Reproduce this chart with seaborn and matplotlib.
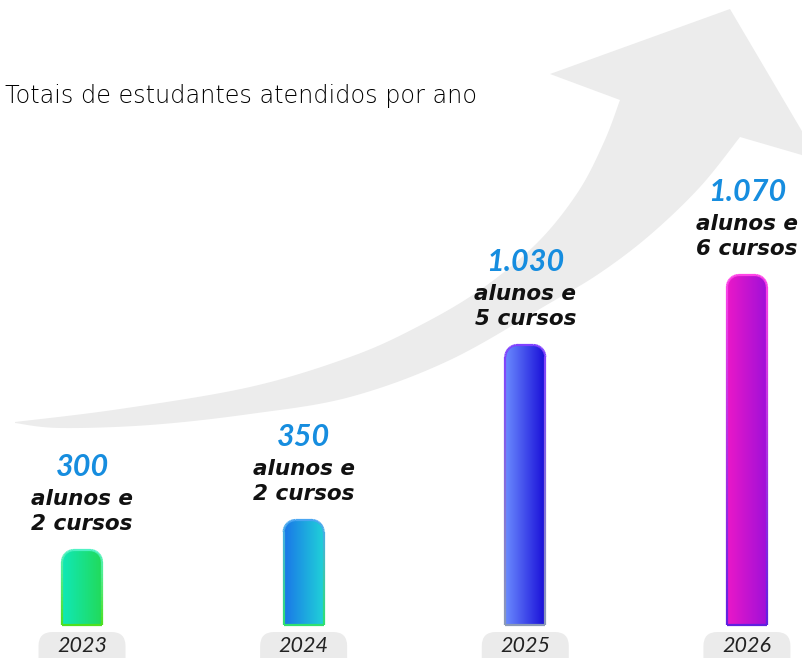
import numpy as np
import pandas as pd
import matplotlib
matplotlib.use('Agg')
import matplotlib.pyplot as plt
import seaborn as sns
from matplotlib.path import Path
from matplotlib.patches import PathPatch, FancyBboxPatch
from matplotlib.collections import LineCollection
from matplotlib.colors import LinearSegmentedColormap, to_rgb

# Data (bar heights are the drawn heights)
years = ['2023', '2024', '2025', '2026']
bar_heights = [75, 105, 280, 350]
totals = ['300', '350', '1.030', '1.070']
courses = ['2 cursos', '2 cursos', '5 cursos', '6 cursos']
title = 'Totais de estudantes atendidos por ano'

# Colours: (left, right) fill gradient and (bottom, top) edge gradient
fill_colors = [('#10e8b8', '#22da5a'), ('#1a76e8', '#20d2d8'),
               ('#6a8cff', '#1a0fd8'), ('#ea18c8', '#a010d8')]
edge_colors = [('#4ee020', '#50f2c4'), ('#30e070', '#4aa6f2'),
               ('#8a9ab8', '#8040ff'), ('#6020e0', '#ff44e6')]
NUM_COLOR = '#168ddf'

W, H = 803, 658
sns.set_style('white')
plt.rcParams['font.family'] = ['Lato', 'DejaVu Sans']


def smooth(points, n=16):
    """Catmull-Rom curve through the given outline points."""
    p = np.asarray(points, float)
    p = np.vstack([p[0], p, p[-1]])
    out = []
    t = np.linspace(0, 1, n, endpoint=False)[:, None]
    for i in range(1, len(p) - 2):
        p0, p1, p2, p3 = p[i - 1], p[i], p[i + 1], p[i + 2]
        out.append(0.5 * (2 * p1 + (-p0 + p2) * t
                          + (2 * p0 - 5 * p1 + 4 * p2 - p3) * t ** 2
                          + (-p0 + 3 * p1 - 3 * p2 + p3) * t ** 3))
    out.append(p[-2:-1])
    return np.vstack(out)


fig = plt.figure(figsize=(W / 100, H / 100), dpi=100)

# background axes in pixel units (y down) for the decorative arrow
bg = fig.add_axes([0, 0, 1, 1], zorder=0)
bg.set_xlim(0, W)
bg.set_ylim(H, 0)
bg.axis('off')

upper = [(15, 422), (120, 409), (250, 387), (350, 357), (417, 327),
         (480, 290), (537, 243), (578, 192), (604, 142), (620, 100)]
lower = [(740, 137), (700, 187), (650, 235), (600, 273), (550, 303),
         (450, 360), (350, 397), (250, 414), (150, 425), (60, 428), (15, 423)]
head = [(550, 74), (730, 9), (819, 160)]
outline = np.vstack([smooth(upper), head, smooth(lower)])
bg.add_patch(PathPatch(Path(outline, closed=False), facecolor='#ececec',
                       edgecolor='none'))

bg.text(5, 96, title, fontsize=17.2, color='#000000', ha='left', va='center',
        family='DejaVu Sans', fontweight='light')

# bar axes: 1 y-unit = 1 pixel, baseline 33 px above the bottom
ax = fig.add_axes([0, 0, 1, 1], zorder=1)
ax.patch.set_alpha(0)
df = pd.DataFrame({'year': years, 'height': bar_heights})
sns.barplot(data=df, x='year', y='height', width=0.18, color='white',
            edgecolor='none', ax=ax)
xlim = (-0.37, 3.253)
ylim = (-33, H - 33)
ax.set_xlim(*xlim)
ax.set_ylim(*ylim)
ax.axis('off')

x_unit = W / (xlim[1] - xlim[0])  # pixels per category unit
radius = 12
bars = list(ax.patches)

for i, bar in enumerate(bars):
    bar.set_visible(False)
    x0, w, h = bar.get_x(), bar.get_width(), bar.get_height()
    rx, ry = radius / x_unit, radius
    # rounded-top outline
    t = np.linspace(np.pi, np.pi / 2, 12)
    left_arc = np.c_[x0 + rx + rx * np.cos(t), h - ry + ry * np.sin(t)]
    t = np.linspace(np.pi / 2, 0, 12)
    right_arc = np.c_[x0 + w - rx + rx * np.cos(t), h - ry + ry * np.sin(t)]
    pts = np.vstack([[x0, 0], [x0, h - ry], left_arc, right_arc,
                     [x0 + w, h - ry], [x0 + w, 0], [x0, 0]])
    clip = PathPatch(Path(pts), facecolor='none', edgecolor='none',
                     transform=ax.transData)
    ax.add_patch(clip)
    cmap = LinearSegmentedColormap.from_list('g%d' % i, fill_colors[i])
    im = ax.imshow(np.linspace(0, 1, 256).reshape(1, -1), cmap=cmap,
                   extent=[x0, x0 + w, 0, h], aspect='auto', zorder=2)
    im.set_clip_path(clip)

    # edge with vertical colour gradient
    dense = []
    for a, b in zip(pts[:-1], pts[1:]):
        n = max(2, int(abs(b[1] - a[1]) / 4) + 2)
        dense.append(np.linspace(a, b, n)[:-1])
    dense = np.vstack(dense + [pts[-1:]])
    segs = np.stack([dense[:-1], dense[1:]], axis=1)
    c0, c1 = np.array(to_rgb(edge_colors[i][0])), np.array(to_rgb(edge_colors[i][1]))
    frac = (segs[:, :, 1].mean(axis=1) / h).clip(0, 1)[:, None]
    lc = LineCollection(segs, colors=c0 + (c1 - c0) * frac, linewidths=1.6, zorder=3)
    ax.add_collection(lc)

    cx = x0 + w / 2
    ax.annotate(totals[i], xy=(cx, h), xytext=(0, 59.5), textcoords='offset points',
                ha='center', va='center', fontsize=22, fontweight='bold',
                fontstyle='italic', color=NUM_COLOR)
    ax.annotate('alunos e', xy=(cx, h), xytext=(0, 37), textcoords='offset points',
                ha='center', va='center', fontsize=15.5, fontweight='bold',
                fontstyle='italic', color='#111111', family='DejaVu Sans')
    ax.annotate(courses[i], xy=(cx, h), xytext=(0, 18.5), textcoords='offset points',
                ha='center', va='center', fontsize=15.5, fontweight='bold',
                fontstyle='italic', color='#111111', family='DejaVu Sans')

    # year pill below the bar, placed in pixel coordinates
    px, py = ax.transData.transform((cx, 0))
    py = H - py
    bg.add_patch(FancyBboxPatch((px - 43.5, py + 7), 87, 50,
                                boxstyle='round,pad=0,rounding_size=14',
                                facecolor='#ebebeb', edgecolor='none'))
    bg.text(px, py + 21, years[i], ha='center', va='center', fontsize=15.5,
            fontstyle='italic', color='#222222')

ax.set_xlim(*xlim)
ax.set_ylim(*ylim)

fig.savefig('out.png', dpi=100)
